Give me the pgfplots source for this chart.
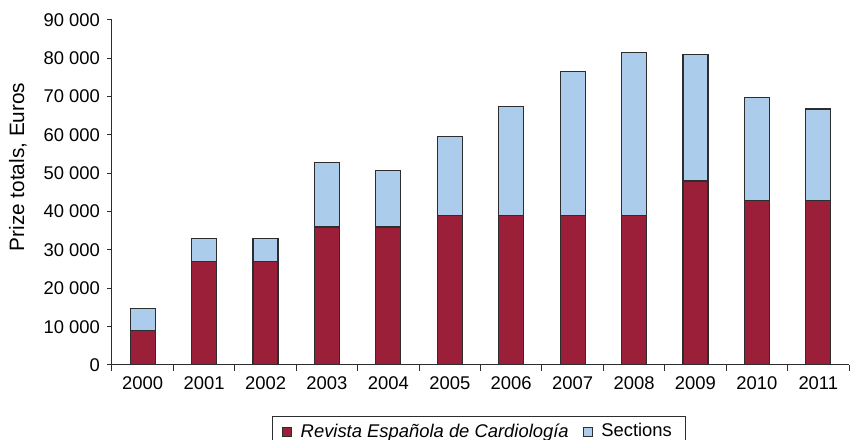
\documentclass[border=0pt]{standalone}
\usepackage{pgfplots}
\pgfplotsset{compat=1.18}
\usepackage{fontspec}
\setmainfont{Liberation Sans}
\definecolor{revred}{RGB}{155,31,57}
\definecolor{secblue}{RGB}{171,205,235}
\definecolor{edge}{RGB}{45,45,45}
\begin{document}
\begin{tikzpicture}
\begin{axis}[
    scale only axis,
    width=368.5pt, height=172.5pt,
    ybar stacked,
    bar width=12.5pt,
    xmin=-0.5, xmax=11.5,
    ymin=0, ymax=90000,
    axis x line=bottom, axis y line=left,
    axis line style={-, edge, line width=0.5pt},
    xtick={0,...,11},
    xticklabels={2000,2001,2002,2003,2004,2005,2006,2007,2008,2009,2010,2011},
    minor xtick={-0.5,0.5,...,11.5},
    major x tick style={draw=none},
    minor x tick style={edge, line width=0.5pt},
    ytick={0,10000,...,90000},
    y tick style={edge, line width=0.5pt},
    tick align=outside,
    major tick length=2.5pt,
    minor tick length=3pt,
    scaled y ticks=false,
    /pgf/number format/assume math mode=true,
    /pgf/number format/.cd, fixed, 1000 sep={\ },
    /pgfplots/.cd,
    tick label style={font=\fontsize{9.2}{11}\selectfont, text=black},
    ylabel={Prize totals, Euros},
    ylabel style={at={(axis description cs:-0.1275,0.574)}, anchor=center, font=\fontsize{10.4}{12}\selectfont},
    every axis plot/.append style={draw=edge, line width=0.6pt},
    legend columns=2,
    legend style={at={(0.498,0)}, yshift=-25.5pt, anchor=north,
        draw=edge, line width=0.5pt, inner xsep=5pt, inner ysep=1.5pt,
        font=\fontsize{9.2}{11}\selectfont,
        /tikz/every odd column/.append style={column sep=2.5pt},
        /tikz/every even column/.append style={column sep=5pt}},
    legend image code/.code={\draw[#1, line width=0.4pt] (0pt,-2.2pt) rectangle (4.4pt,2.2pt);},
]
\addplot[fill=revred] coordinates {(0,9000) (1,27000) (2,27000) (3,36000) (4,36000) (5,39000) (6,39000) (7,39000) (8,39000) (9,48000) (10,43000) (11,43000)};
\addlegendentry{\textit{Revista Española de Cardiología}}
\addplot[fill=secblue] coordinates {(0,5700) (1,6000) (2,6000) (3,16800) (4,14700) (5,20700) (6,28500) (7,37500) (8,42600) (9,33000) (10,26800) (11,23800)};
\addlegendentry{Sections}
\end{axis}
\pgfresetboundingbox
\useasboundingbox (-56pt,-37pt) rectangle (369.5pt,182.5pt);
\end{tikzpicture}
\end{document}
